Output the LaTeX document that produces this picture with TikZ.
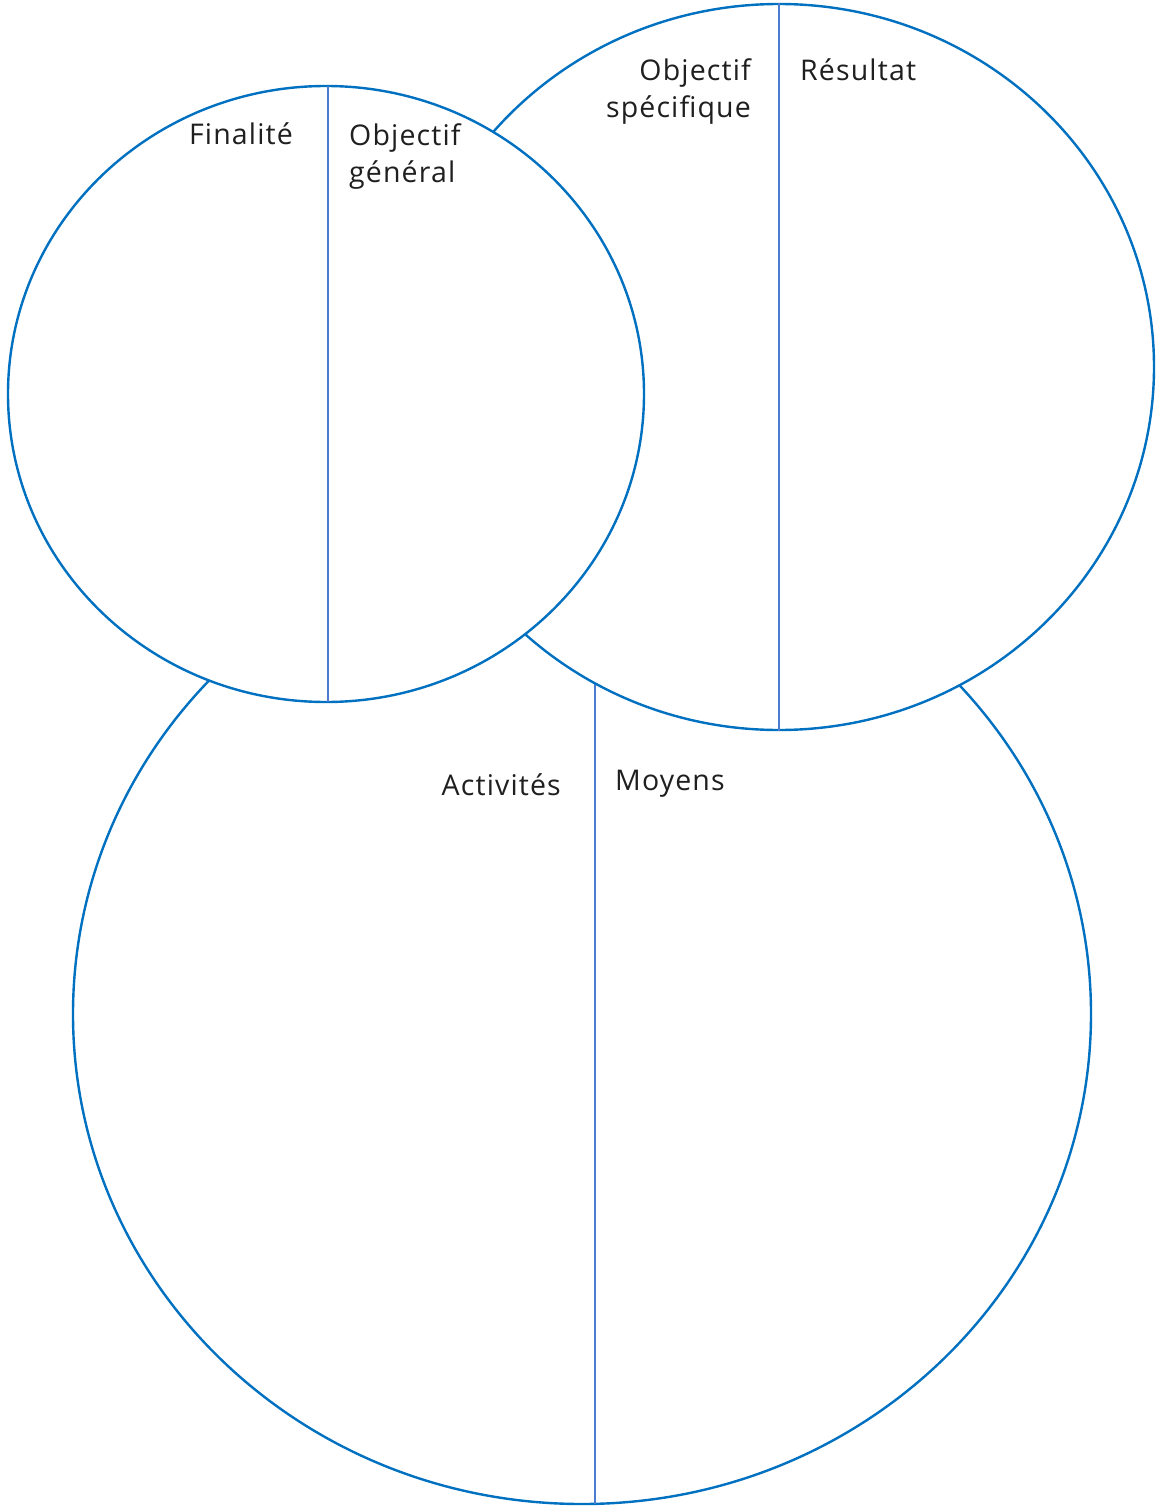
\documentclass[tikz,border=0pt]{standalone}
\usepackage{fontspec}
\setmainfont[LetterSpace=4]{Open Sans}
\usetikzlibrary{shapes.geometric}
\definecolor{ring}{HTML}{0070C0}
\definecolor{divider}{HTML}{4A7DD0}
\tikzset{
  ring/.style={ellipse, draw=ring, fill=white, line width=2.4pt, inner sep=0pt},
  divider/.style={draw=divider, line width=1.3pt},
  lbl/.style={inner sep=0pt, font=\fontsize{28.5}{37.5}\selectfont, text=black!88}
}
\begin{document}
\begin{tikzpicture}[x=1pt,y=-1pt]
\useasboundingbox (0,0) rectangle (1156,1506);
% bottom ellipse
\node[ring, minimum width=1018pt, minimum height=980pt] (c3) at (582,1014) {};
\coordinate (m3top) at (595,684);
\coordinate (m3bot) at (595,1503.8);
\draw[divider] (m3top) -- (m3bot);
% top-right ellipse
\node[ring, minimum width=750pt, minimum height=726pt] (c2) at (779,367) {};
\draw[divider] (c2.north) -- (c2.south);
% top-left ellipse
\node[ring, minimum width=636pt, minimum height=616pt] (c1) at (326,394) {};
\coordinate (m1top) at (328,86);
\coordinate (m1bot) at (328,702);
\draw[divider] (m1top) -- (m1bot);
% labels
\node[lbl, anchor=base east] (fin) at (293,145) {Finalité};
\node[lbl, anchor=base west, align=left] (og) at (349,183) {Objectif\\général};
\node[lbl, anchor=base east, align=right] (os) at (751,118) {Objectif\\spécifique};
\node[lbl, anchor=base west] (res) at (800,81) {Résultat};
\node[lbl, anchor=base east] (act) at (561,795) {Activités};
\node[lbl, anchor=base west] (moy) at (615,790) {Moyens};
\end{tikzpicture}
\end{document}
